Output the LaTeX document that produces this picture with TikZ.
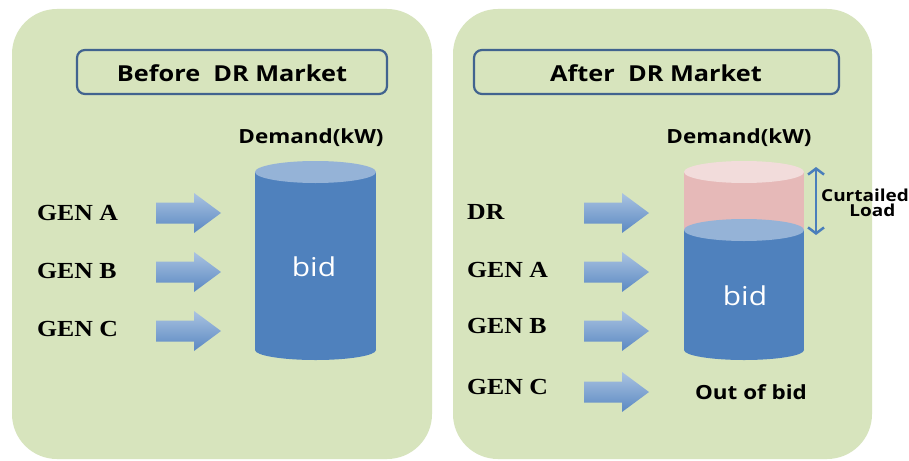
\documentclass[tikz,border=0pt]{standalone}
\usepackage{fontspec}
\setmainfont{Liberation Serif}
\setsansfont{Open Sans}
\newfontfamily\genfont[FakeStretch=1.12]{Liberation Serif}
\newfontfamily\wsans[FakeStretch=1.15]{Open Sans}
\usetikzlibrary{arrows.meta}
\definecolor{panel}{HTML}{D7E4BD}
\definecolor{frame}{HTML}{41638F}
\definecolor{cylblue}{HTML}{4F81BD}
\definecolor{cyltop}{HTML}{95B3D7}
\definecolor{pinkbody}{HTML}{E6B9B8}
\definecolor{pinktop}{HTML}{F2DCDB}
\definecolor{arrtop}{HTML}{AAC3E1}
\definecolor{arrbot}{HTML}{5A88C2}
\definecolor{curtail}{HTML}{4A7EBB}
\tikzset{
  panelbox/.style={fill=panel, rounded corners=45pt},
  titlebox/.style={draw=frame, line width=2.2pt, fill=panel, rounded corners=8pt},
  titletext/.style={font=\wsans\bfseries\fontsize{22}{22}\selectfont, inner sep=0},
  demandtext/.style={font=\wsans\bfseries\fontsize{19.5}{20}\selectfont, inner sep=0},
  gentext/.style={font=\genfont\bfseries\fontsize{23}{23}\selectfont, inner sep=0, anchor=west},
  bidtext/.style={font=\wsans\fontsize{26}{26}\selectfont, text=white, inner sep=0},
  smalltext/.style={font=\wsans\bfseries\fontsize{16.5}{17}\selectfont, inner sep=0},
  fatarrow/.style={top color=arrtop, bottom color=arrbot, draw=none},
}
\newcommand\fatarrow[2]{\path[fatarrow] (#1,#2) ++(0,-10.5) -- ++(38,0) -- ++(0,-9.5) -- ++(27,20) -- ++(-27,20) -- ++(0,-9.5) -- ++(-38,0) -- cycle;}
\begin{document}
\begin{tikzpicture}[x=1pt,y=-1pt]
\useasboundingbox (0,0) rectangle (909,460);
\fill[white] (0,0) rectangle (909,460);
% panels
\path[panelbox] (12,9) rectangle (432,459);
\path[panelbox] (453,9) rectangle (872,459);
% title boxes
\path[titlebox] (77,50) rectangle (387,94);
\node[titletext] (tleft) at (232,73) {Before\ \ DR Market};
\path[titlebox] (474,50) rectangle (839,94);
\node[titletext] (tright) at (656,73) {After\ \ DR Market};
% left panel
\node[demandtext] (dleft) at (311,138) {Demand(kW)};
\fill[cylblue] (255,172) rectangle (376,350);
\fill[cylblue] (315.5,350) ellipse [x radius=60.5, y radius=10];
\fill[cyltop] (315.5,172) ellipse [x radius=60.5, y radius=11];
\node[bidtext] (bidleft) at (314,267) {bid};
\node[gentext] (lga) at (37,213) {GEN A};
\node[gentext] (lgb) at (37,271) {GEN B};
\node[gentext] (lgc) at (37,329) {GEN C};
\fatarrow{156}{213}
\fatarrow{156}{272}
\fatarrow{156}{331}
% right panel
\node[demandtext] (dright) at (739,138) {Demand(kW)};
\fill[pinkbody] (684,172) rectangle (804,230);
\fill[pinktop] (744,172) ellipse [x radius=60, y radius=11];
\fill[cylblue] (684,230) rectangle (804,350);
\fill[cylblue] (744,350) ellipse [x radius=60, y radius=10];
\fill[cyltop] (744,230) ellipse [x radius=60, y radius=11];
\node[bidtext] (bidright) at (745,296) {bid};
\node[gentext] (rdr) at (467,212) {DR};
\node[gentext] (rga) at (467,270) {GEN A};
\node[gentext] (rgb) at (467,326) {GEN B};
\node[gentext] (rgc) at (467,387) {GEN C};
\fatarrow{584}{213}
\fatarrow{584}{272}
\fatarrow{584}{331}
\fatarrow{584}{392}
\node[demandtext] (out) at (751,392) {Out of bid};
% curtailed load
\coordinate (ctop) at (816,167);
\coordinate (cbot) at (816,235);
\draw[curtail, line width=2.5pt, {Straight Barb[length=6pt,width=16pt]}-{Straight Barb[length=6pt,width=16pt]}] (ctop) -- (cbot);
\node[smalltext, align=center] (cl) at (865,203) {Curtailed\\[-2pt]\ \ \ Load};
\end{tikzpicture}
\end{document}
